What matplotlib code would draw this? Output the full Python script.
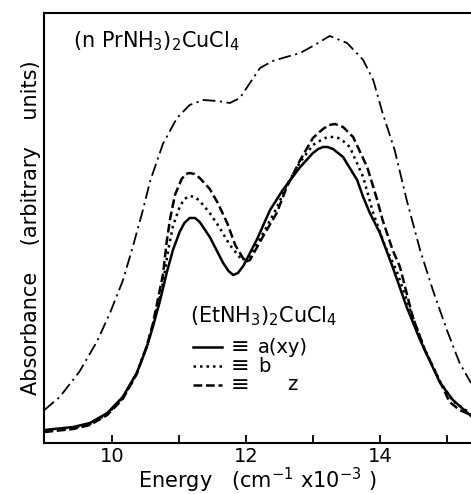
import matplotlib
matplotlib.use("Agg")
import matplotlib.pyplot as plt
from matplotlib.lines import Line2D

plt.rcParams['font.family'] = ['DejaVu Sans']
plt.rcParams['mathtext.default'] = 'regular'

# (EtNH3)2CuCl4, polarisation a(xy) - solid
energy_a = [8.99, 9.42, 9.67, 9.93, 10.16, 10.37, 10.52, 10.61, 10.72, 10.82, 10.91, 11.01,
            11.08, 11.16, 11.24, 11.31, 11.46, 11.66, 11.74, 11.81, 11.88, 11.96, 12.16,
            12.36, 12.55, 12.81, 13.00, 13.08, 13.15, 13.22, 13.30, 13.45, 13.66, 13.75,
            13.85, 14.00, 14.19, 14.40, 14.60, 14.90, 15.09, 15.36]
absorb_a = [0.13, 0.16, 0.20, 0.30, 0.46, 0.70, 0.96, 1.16, 1.43, 1.71, 1.93, 2.11,
            2.20, 2.25, 2.25, 2.21, 2.06, 1.80, 1.72, 1.68, 1.70, 1.77, 2.03,
            2.33, 2.53, 2.76, 2.90, 2.94, 2.96, 2.96, 2.94, 2.86, 2.63, 2.46,
            2.30, 2.10, 1.76, 1.36, 1.03, 0.60, 0.43, 0.27]

# polarisation b - dotted
energy_b = [8.99, 9.42, 9.67, 9.93, 10.16, 10.37, 10.52, 10.61, 10.72, 10.76, 10.84, 10.91,
            11.01, 11.08, 11.16, 11.24, 11.31, 11.46, 11.61, 11.76, 11.94, 12.06, 12.25,
            12.46, 12.61, 12.81, 13.00, 13.15, 13.22, 13.30, 13.38, 13.45, 13.55, 13.75,
            13.90, 14.07, 14.25, 14.48, 14.66, 14.90, 15.09, 15.36]
absorb_b = [0.12, 0.15, 0.19, 0.29, 0.45, 0.70, 0.97, 1.18, 1.47, 1.60, 1.93, 2.17,
            2.36, 2.44, 2.47, 2.46, 2.42, 2.30, 2.15, 1.98, 1.83, 1.86, 2.09,
            2.35, 2.58, 2.81, 2.98, 3.04, 3.06, 3.06, 3.05, 3.02, 2.96, 2.66,
            2.30, 1.98, 1.72, 1.28, 0.95, 0.61, 0.42, 0.29]

# polarisation z - dashed
energy_z = [8.99, 9.42, 9.67, 9.93, 10.16, 10.37, 10.52, 10.61, 10.72, 10.76, 10.82, 10.87,
            10.94, 11.04, 11.10, 11.16, 11.23, 11.31, 11.46, 11.58, 11.72, 11.84, 11.99,
            12.06, 12.25, 12.46, 12.61, 12.81, 13.00, 13.15, 13.24, 13.33, 13.45, 13.60,
            13.81, 13.96, 14.04, 14.19, 14.30, 14.49, 14.67, 14.90, 15.04, 15.19, 15.36]
absorb_z = [0.11, 0.14, 0.18, 0.28, 0.44, 0.69, 0.97, 1.19, 1.55, 1.68, 2.03, 2.25,
            2.48, 2.64, 2.69, 2.70, 2.69, 2.65, 2.54, 2.40, 2.20, 1.98, 1.81,
            1.83, 2.06, 2.30, 2.56, 2.83, 3.05, 3.14, 3.18, 3.19, 3.16, 3.06,
            2.76, 2.43, 2.23, 1.93, 1.76, 1.26, 0.93, 0.61, 0.41, 0.33, 0.28]

# (nPrNH3)2CuCl4 - dash-dot
energy_pr = [8.99, 9.22, 9.52, 9.78, 9.97, 10.16, 10.31, 10.45, 10.57, 10.76, 10.97, 11.16,
             11.36, 11.57, 11.76, 11.91, 12.06, 12.21, 12.40, 12.55, 12.81, 13.00, 13.25,
             13.51, 13.75, 13.90, 14.04, 14.22, 14.40, 14.60, 14.79, 15.00, 15.19, 15.36]
absorb_pr = [0.33, 0.46, 0.72, 1.02, 1.30, 1.62, 1.96, 2.30, 2.62, 2.99, 3.25, 3.38,
             3.43, 3.42, 3.40, 3.45, 3.60, 3.75, 3.82, 3.85, 3.90, 3.97, 4.07,
             4.00, 3.83, 3.63, 3.30, 2.93, 2.43, 1.93, 1.53, 1.13, 0.80, 0.60]

tick_pos = [10, 11, 12, 13, 14, 15]
tick_labels = ['10', '', '12', '', '14', '']

fig = plt.figure(figsize=(4.71, 4.94), dpi=100)
ax = fig.add_axes([0.0934, 0.1032, 0.9066, 0.8705])

ax.plot(energy_pr, absorb_pr, color='black', lw=1.3, dashes=(7, 2.5, 1.2, 2.5))
ax.plot(energy_a, absorb_a, color='black', lw=1.8, linestyle='-')
ax.plot(energy_b, absorb_b, color='black', lw=1.8, dashes=(1.0, 1.6))
ax.plot(energy_z, absorb_z, color='black', lw=1.8, dashes=(3.5, 1.5))

ax.set_xlim(8.985, 15.36)
ax.set_ylim(0, 4.30)
ax.set_xticks(tick_pos)
ax.set_xticklabels(tick_labels)
ax.set_yticks([])
ax.tick_params(axis='x', direction='in', length=6, width=1.3, labelsize=14, pad=3)
ax.spines['right'].set_visible(False)
for s in ['left', 'bottom', 'top']:
    ax.spines[s].set_linewidth(1.5)

ax.set_xlabel('Energy   (cm$^{-1}$ x10$^{-3}$ )', fontsize=15, labelpad=0)
ax.set_ylabel('Absorbance    (arbitrary    units)', fontsize=15, labelpad=2)

ax.text(0.068, 0.921, '(n PrNH$_3$)$_2$CuCl$_4$', transform=ax.transAxes, fontsize=15)
ax.text(0.342, 0.281, '(EtNH$_3$)$_2$CuCl$_4$', transform=ax.transAxes, fontsize=15)

# legend samples
rows = [0.223, 0.179, 0.135]
styles = [dict(linestyle='-'), dict(dashes=(1.0, 1.6)), dict(dashes=(3.5, 1.5))]
names = ['a(xy)', 'b', 'z']
name_x = [0.501, 0.501, 0.569]
for yy, st, nm, nx in zip(rows, styles, names, name_x):
    ax.add_line(Line2D([0.349, 0.417], [yy, yy], transform=ax.transAxes,
                       color='black', lw=1.8, **st))
    ax.text(0.459, yy, '\u2261', transform=ax.transAxes, fontsize=16,
            ha='center', va='center')
    ax.text(nx, yy, nm, transform=ax.transAxes, fontsize=14, va='center')

fig.savefig('out.png', dpi=100)
